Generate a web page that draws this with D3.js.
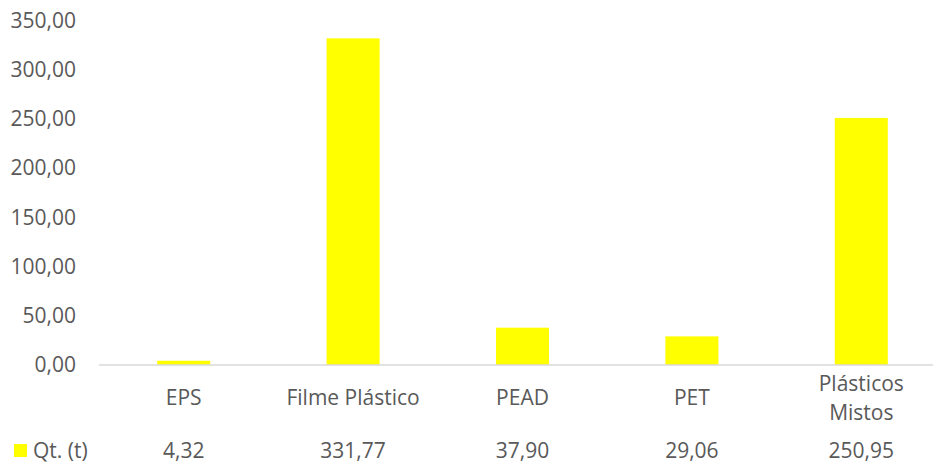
<!DOCTYPE html>
<html><head><meta charset="utf-8">
<script src="https://cdn.jsdelivr.net/npm/d3@7"></script>
<style>
html,body{margin:0;padding:0;background:#fff;}
text{font-family:"Open Sans",sans-serif;fill:#595959;}
</style></head>
<body><svg id="c" width="933" height="463"></svg>
<script>
const categories = ["EPS", "Filme Plástico", "PEAD", "PET", "Plásticos Mistos"];
const categoryLines = [["EPS"], ["Filme Plástico"], ["PEAD"], ["PET"], ["Plásticos", "Mistos"]];
const values = [4.32, 331.77, 37.90, 29.06, 250.95];
const seriesName = "Qt. (t)";
const yTicks = [0, 50, 100, 150, 200, 250, 300, 350];

const fmt = v => v.toFixed(2).replace(".", ",");
const svg = d3.select("#c");
const x = d3.scaleBand().domain(categories).range([99, 946]).padding(0);
const y = d3.scaleLinear().domain([0, 350]).range([365, 20.4]);
const barW = x.bandwidth() * 0.313;

// y tick labels
svg.append("g").selectAll("text").data(yTicks).join("text")
  .attr("x", 76).attr("y", d => y(d)).attr("dy", "0.35em")
  .attr("text-anchor", "end").attr("font-size", 21)
  .text(d => fmt(d));

// bars
svg.append("g").selectAll("rect").data(values).join("rect")
  .attr("x", (d, i) => x(categories[i]) + x.bandwidth() / 2 - barW / 2)
  .attr("width", barW)
  .attr("y", d => y(d))
  .attr("height", d => y(0) - y(d))
  .attr("fill", "#FFFF00");

// axis line
svg.append("line").attr("x1", 99).attr("x2", 933).attr("y1", y(0)).attr("y2", y(0))
  .attr("stroke", "#d9d9d9").attr("stroke-width", 1.5);

// category labels
const cg = svg.append("g");
categoryLines.forEach((lines, i) => {
  const cx = x(categories[i]) + x.bandwidth() / 2;
  const n = lines.length;
  lines.forEach((t, j) => {
    cg.append("text").attr("x", cx).attr("y", 398 + (j - (n - 1) / 2) * 29).attr("dy", "0.35em")
      .attr("text-anchor", "middle").attr("font-size", 21).text(t);
  });
});

// data table row
svg.append("rect").attr("x", 14).attr("y", 444).attr("width", 13).attr("height", 13).attr("fill", "#FFFF00");
svg.append("text").attr("x", 33).attr("y", 451).attr("dy", "0.35em").attr("font-size", 21).text(seriesName);
svg.append("g").selectAll("text").data(values).join("text")
  .attr("x", (d, i) => x(categories[i]) + x.bandwidth() / 2)
  .attr("y", 451).attr("dy", "0.35em").attr("text-anchor", "middle").attr("font-size", 21)
  .text(d => fmt(d));
</script></body></html>
